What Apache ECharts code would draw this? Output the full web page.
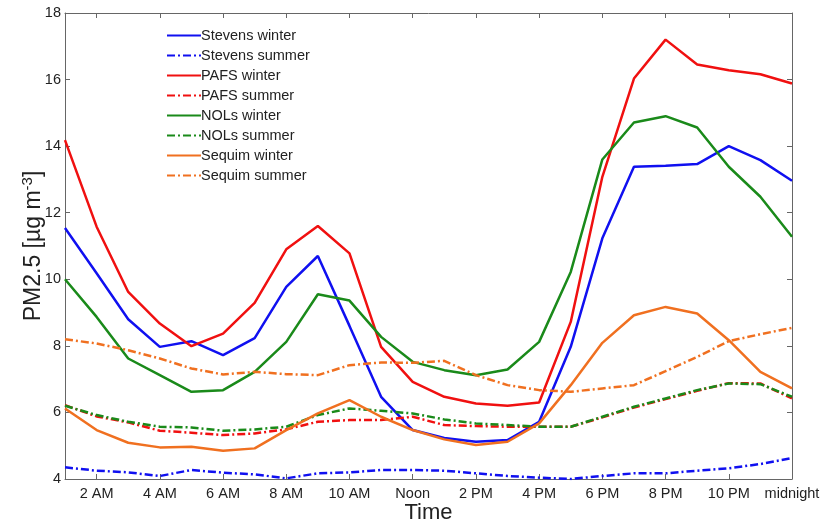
<!DOCTYPE html>
<html>
<head>
<meta charset="utf-8">
<script src="https://cdn.jsdelivr.net/npm/echarts@6/dist/echarts.min.js"></script>
<style>
html,body{margin:0;padding:0;background:#fff;}
#c{width:820px;height:522px;}
</style>
</head>
<body>
<div id="c"></div>
<script>
const hours = ['1 AM','2 AM','3 AM','4 AM','5 AM','6 AM','7 AM','8 AM','9 AM','10 AM','11 AM','Noon',
  '1 PM','2 PM','3 PM','4 PM','5 PM','6 PM','7 PM','8 PM','9 PM','10 PM','11 PM','midnight'];

const stevensWinter = [11.54,10.18,8.8,7.97,8.14,7.72,8.23,9.77,10.7,8.6,6.47,5.47,5.23,5.12,5.17,5.72,7.97,11.23,13.38,13.41,13.46,14.0,13.58,12.96];
const stevensSummer = [4.35,4.25,4.2,4.09,4.27,4.19,4.14,4.02,4.17,4.2,4.27,4.27,4.25,4.17,4.09,4.04,4.0,4.09,4.17,4.17,4.25,4.32,4.45,4.63];
const pafsWinter = [14.18,11.58,9.62,8.67,7.99,8.37,9.29,10.9,11.6,10.78,7.97,6.92,6.47,6.27,6.2,6.3,8.72,13.08,16.03,17.2,16.45,16.28,16.16,15.88];
const pafsSummer = [6.22,5.88,5.7,5.45,5.39,5.32,5.37,5.49,5.72,5.77,5.77,5.87,5.62,5.59,5.57,5.57,5.57,5.85,6.15,6.4,6.65,6.88,6.87,6.42];
const nolsWinter = [10.0,8.87,7.62,7.12,6.62,6.67,7.22,8.12,9.55,9.36,8.27,7.52,7.27,7.12,7.29,8.12,10.22,13.6,14.71,14.9,14.56,13.38,12.48,11.28];
const nolsSummer = [6.2,5.92,5.72,5.57,5.55,5.45,5.49,5.57,5.92,6.12,6.05,5.97,5.79,5.67,5.62,5.57,5.57,5.87,6.17,6.42,6.67,6.87,6.85,6.47];
const sequimWinter = [6.12,5.47,5.09,4.95,4.97,4.85,4.92,5.47,5.97,6.37,5.87,5.47,5.19,5.02,5.12,5.67,6.82,8.09,8.92,9.17,8.97,8.17,7.22,6.72];
const sequimSummer = [8.2,8.07,7.87,7.62,7.32,7.14,7.22,7.15,7.12,7.42,7.5,7.49,7.55,7.12,6.82,6.67,6.62,6.72,6.82,7.24,7.67,8.14,8.35,8.54];

const seriesNames = ['Stevens winter','Stevens summer','PAFS winter','PAFS summer','NOLs winter','NOLs summer','Sequim winter','Sequim summer'];
const seriesData = [stevensWinter,stevensSummer,pafsWinter,pafsSummer,nolsWinter,nolsSummer,sequimWinter,sequimSummer];
const colors = ['#1010f0','#1010f0','#f01010','#f01010','#1a8a1a','#1a8a1a','#f07020','#f07020'];
const dashDot = [8,3,2,3];

const font = '"Liberation Sans", Arial, sans-serif';
const axisColor = '#666';
const textColor = '#222';

const chart = echarts.init(document.getElementById('c'), null, {renderer:'canvas'});

const option = {
  animation: false,
  backgroundColor: '#fff',
  grid: {left: 65, right: 28, top: 13, bottom: 43, containLabel: false, outerBoundsMode: 'none'},
  legend: {
    orient: 'vertical',
    left: 166,
    top: 28,
    padding: 0,
    itemWidth: 34,
    itemHeight: 14,
    itemGap: 5,
    data: seriesNames,
    itemStyle: {opacity: 0},
    textStyle: {fontFamily: font, fontSize: 14.5, lineHeight: 14, color: textColor, padding: [0,0,0,-5]}
  },
  xAxis: [{
    type: 'category',
    data: hours,
    boundaryGap: false,
    name: 'Time',
    nameLocation: 'middle',
    nameGap: 23,
    nameMoveOverlap: false,
    nameTextStyle: {fontFamily: font, fontSize: 22, color: textColor},
    axisLine: {lineStyle: {color: axisColor, width: 1}},
    axisTick: {inside: true, length: 5, interval: (i) => i % 2 === 1, lineStyle: {color: axisColor}},
    axisLabel: {interval: (i) => i % 2 === 1, fontFamily: font, fontSize: 14.5, color: textColor, margin: 7},
    splitLine: {show: false}
  },{
    type: 'category',
    data: hours,
    position: 'top',
    boundaryGap: false,
    axisLine: {lineStyle: {color: axisColor, width: 1}},
    axisTick: {inside: true, length: 5, interval: (i) => i % 2 === 1, lineStyle: {color: axisColor}},
    axisLabel: {show: false},
    splitLine: {show: false}
  }],
  yAxis: [{
    type: 'value',
    min: 4, max: 18, interval: 2,
    name: 'PM2.5 [\u00b5g m{sup|-3}]',
    nameLocation: 'middle',
    nameGap: 18,
    nameMoveOverlap: false,
    nameTextStyle: {fontFamily: font, fontSize: 23, color: textColor,
      rich: {sup: {fontFamily: font, fontSize: 15, color: textColor, verticalAlign: 'top', padding: [0,0,12,0]}}},
    axisLine: {show: true, lineStyle: {color: axisColor, width: 1}},
    axisTick: {show: true, inside: true, length: 5, lineStyle: {color: axisColor}},
    axisLabel: {fontFamily: font, fontSize: 14.5, color: textColor, margin: 4},
    splitLine: {show: false}
  },{
    type: 'value',
    min: 4, max: 18, interval: 2,
    position: 'right',
    axisLine: {show: true, lineStyle: {color: axisColor, width: 1}},
    axisTick: {show: true, inside: true, length: 5, lineStyle: {color: axisColor}},
    axisLabel: {show: false},
    splitLine: {show: false}
  }],
  series: seriesNames.map((n, i) => ({
    name: n,
    type: 'line',
    data: seriesData[i],
    xAxisIndex: 0,
    yAxisIndex: 0,
    showSymbol: false,
    symbol: 'none',
    smooth: false,
    color: colors[i],
    lineStyle: {color: colors[i], width: 2.5, type: (i % 2 === 1) ? dashDot : 'solid'}
  }))
};
chart.setOption(option);
</script>
</body>
</html>
